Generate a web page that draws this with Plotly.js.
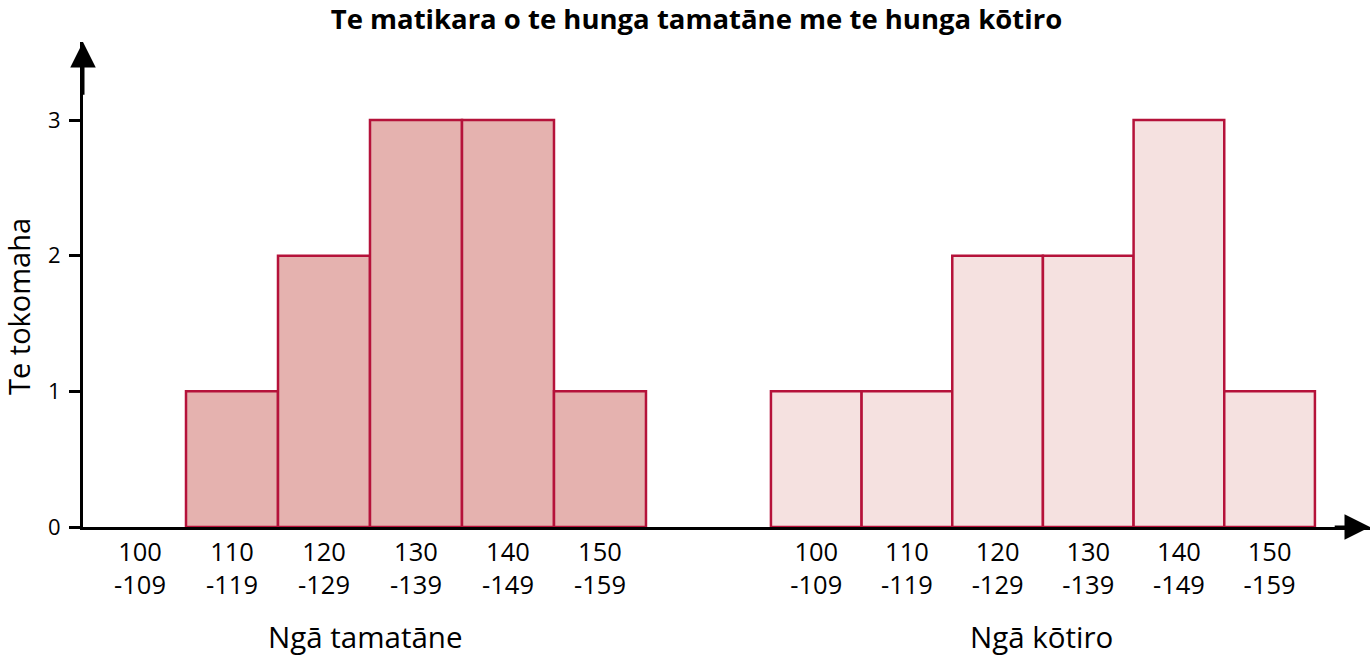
<!DOCTYPE html>
<html>
<head>
<meta charset="utf-8">
<script src="https://cdn.plot.ly/plotly-3.0.1.min.js"></script>
<style>html,body{margin:0;padding:0;background:#fff;}#chart{width:1371px;height:656px;}</style>
</head>
<body>
<div id="chart"></div>
<script>
const chartTitle = "Te matikara o te hunga tamatāne me te hunga kōtiro";
const yTitle = "Te tokomaha";
const binLabels = ["100<br>-109", "110<br>-119", "120<br>-129", "130<br>-139", "140<br>-149", "150<br>-159"];
const groupNames = ["Ngā tamatāne", "Ngā kōtiro"];
const boysCounts = [0, 1, 2, 3, 3, 1];
const girlsCounts = [1, 1, 2, 2, 3, 1];
const yTicks = [0, 1, 2, 3];

// layout constants (axis units: one boys' bin = 1)
const girlsOffset = 7.351;
const girlsStep = 0.9855;
const boysX = binLabels.map((_, i) => i);
const girlsX = binLabels.map((_, i) => girlsOffset + i * girlsStep);
const xMin = -0.6196, xMax = 13.37, yMax = 3.575;
const edge = "#B5123A";
const font = "Open Sans, Noto Sans, sans-serif";
const lineW = v => (v === 0 ? 0 : 2.5);

const traces = [
  {type: "bar", x: boysX, y: boysCounts, width: 1, name: groupNames[0],
   marker: {color: "#E5B2AF", line: {color: edge, width: boysCounts.map(lineW)}}, hoverinfo: "y"},
  {type: "bar", x: girlsX, y: girlsCounts, width: girlsStep, name: groupNames[1],
   marker: {color: "#F5E1E0", line: {color: edge, width: girlsCounts.map(lineW)}}, hoverinfo: "y"}
];

const mean = a => a.reduce((s, v) => s + v, 0) / a.length;

const layout = {
  width: 1371, height: 656,
  margin: {l: 83, r: 1, t: 42, b: 129},
  paper_bgcolor: "#fff", plot_bgcolor: "#fff",
  showlegend: false,
  barmode: "overlay",
  font: {family: font, color: "#000", size: 24},
  title: {text: chartTitle, x: 0.508, xanchor: "center", y: 0.971, yanchor: "middle",
          font: {family: font, size: 27.5, color: "#000", weight: "bold"}},
  xaxis: {range: [xMin, xMax], showgrid: false, zeroline: false,
          showline: true, linecolor: "#000", linewidth: 3,
          tickvals: boysX.concat(girlsX), ticktext: binLabels.concat(binLabels),
          ticks: "", tickfont: {size: 25.5, family: font}, fixedrange: true},
  yaxis: {range: [0, yMax], showgrid: false, zeroline: false,
          showline: true, linecolor: "#000", linewidth: 3,
          tickvals: yTicks, ticks: "outside", ticklen: 11, tickwidth: 3, tickcolor: "#000",
          ticklabelstandoff: 4,
          tickfont: {size: 22, family: font}, fixedrange: true},
  annotations: [
    {x: xMax, y: 0, xref: "x", yref: "y", ax: xMax - 0.4, ay: 0, axref: "x", ayref: "y",
     showarrow: true, arrowhead: 2, arrowsize: 1.7, arrowwidth: 3, arrowcolor: "#000", text: ""},
    {x: xMin, y: yMax, xref: "x", yref: "y", ax: xMin, ay: yMax - 0.4, axref: "x", ayref: "y",
     showarrow: true, arrowhead: 2, arrowsize: 1.7, arrowwidth: 3, arrowcolor: "#000", text: ""},
    {text: yTitle, textangle: -90, xref: "paper", yref: "paper",
     x: (18 - 83) / 1287, y: (527 - 307) / 485, xanchor: "center", yanchor: "middle",
     showarrow: false, font: {size: 29, family: font}},
    {text: groupNames[0], xref: "x", yref: "paper",
     x: mean(boysX) - 0.05, y: (527 - 636) / 485,
     xanchor: "center", yanchor: "middle", showarrow: false, font: {size: 29.5, family: font}},
    {text: groupNames[1], xref: "x", yref: "paper",
     x: mean(girlsX) - 0.02, y: (527 - 636) / 485,
     xanchor: "center", yanchor: "middle", showarrow: false, font: {size: 29.5, family: font}}
  ]
};

Plotly.newPlot("chart", traces, layout, {displayModeBar: false, staticPlot: true});
</script>
</body>
</html>
